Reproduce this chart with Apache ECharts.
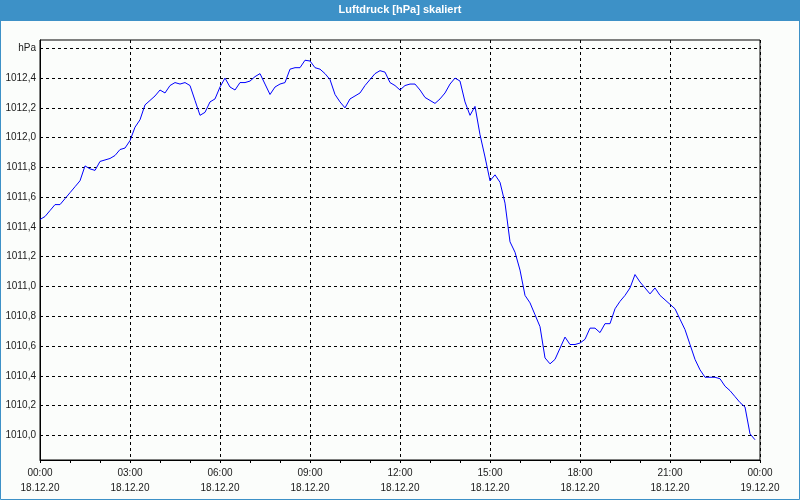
<!DOCTYPE html>
<html><head><meta charset="utf-8">
<script src="https://cdn.jsdelivr.net/npm/echarts@6/dist/echarts.min.js"></script>
<style>html,body{margin:0;padding:0;background:#fbfdfb}#c{width:800px;height:500px}</style>
</head><body><div id="c"></div>
<script>
const chartTitle = 'Luftdruck [hPa] skaliert';
const times = [
'00:00','00:10','00:20','00:30','00:40','00:50','01:00','01:10','01:20','01:30','01:40','01:50',
'02:00','02:10','02:20','02:30','02:40','02:50','03:00','03:10','03:20','03:30','03:40','03:50',
'04:00','04:10','04:20','04:30','04:40','04:50','05:00','05:10','05:20','05:30','05:40','05:50',
'06:00','06:10','06:20','06:30','06:40','06:50','07:00','07:10','07:20','07:30','07:40','07:50',
'08:00','08:10','08:20','08:30','08:40','08:50','09:00','09:10','09:20','09:30','09:40','09:50',
'10:00','10:10','10:20','10:30','10:40','10:50','11:00','11:10','11:20','11:30','11:40','11:50',
'12:00','12:10','12:20','12:30','12:40','12:50','13:00','13:10','13:20','13:30','13:40','13:50',
'14:00','14:10','14:20','14:30','14:40','14:50','15:00','15:10','15:20','15:30','15:40','15:50',
'16:00','16:10','16:20','16:30','16:40','16:50','17:00','17:10','17:20','17:30','17:40','17:50',
'18:00','18:10','18:20','18:30','18:40','18:50','19:00','19:10','19:20','19:30','19:40','19:50',
'20:00','20:10','20:20','20:30','20:40','20:50','21:00','21:10','21:20','21:30','21:40','21:50',
'22:00','22:10','22:20','22:30','22:40','22:50','23:00','23:10','23:20','23:30','23:40','23:50'
];
const pressure = [
1011.45,1011.47,1011.51,1011.55,1011.55,1011.59,1011.63,1011.67,1011.71,1011.81,1011.79,1011.78,
1011.84,1011.85,1011.86,1011.88,1011.92,1011.93,1011.98,1012.07,1012.12,1012.22,1012.25,1012.28,
1012.32,1012.30,1012.35,1012.37,1012.36,1012.37,1012.35,1012.25,1012.15,1012.17,1012.24,1012.26,
1012.34,1012.40,1012.34,1012.32,1012.37,1012.37,1012.38,1012.41,1012.43,1012.36,1012.29,1012.34,
1012.36,1012.37,1012.46,1012.47,1012.47,1012.52,1012.515,1012.47,1012.46,1012.43,1012.39,1012.29,
1012.24,1012.20,1012.26,1012.28,1012.30,1012.35,1012.39,1012.43,1012.45,1012.44,1012.37,1012.35,
1012.32,1012.35,1012.36,1012.36,1012.32,1012.27,1012.25,1012.23,1012.26,1012.30,1012.36,1012.40,
1012.38,1012.24,1012.15,1012.21,1012.02,1011.87,1011.71,1011.75,1011.70,1011.56,1011.30,1011.23,
1011.11,1010.94,1010.89,1010.81,1010.73,1010.52,1010.48,1010.51,1010.585,1010.66,1010.61,1010.61,
1010.62,1010.645,1010.72,1010.72,1010.69,1010.75,1010.75,1010.85,1010.90,1010.94,1010.99,1011.08,
1011.03,1010.99,1010.95,1010.99,1010.94,1010.91,1010.88,1010.85,1010.78,1010.71,1010.61,1010.51,
1010.44,1010.39,1010.39,1010.39,1010.38,1010.33,1010.30,1010.26,1010.22,1010.19,1010.01,1009.97
];
const xTickValues = [0,180,360,540,720,900,1080,1260,1440];
const xTickLabels = ['00:00\n18.12.20','03:00\n18.12.20','06:00\n18.12.20','09:00\n18.12.20','12:00\n18.12.20',
  '15:00\n18.12.20','18:00\n18.12.20','21:00\n18.12.20','00:00\n19.12.20'];
const yTickValues = [1010.0,1010.2,1010.4,1010.6,1010.8,1011.0,1011.2,1011.4,1011.6,1011.8,1012.0,1012.2,1012.4,1012.6];
const yTickLabels = ['1010,0','1010,2','1010,4','1010,6','1010,8','1011,0','1011,2','1011,4','1011,6','1011,8','1012,0','1012,2','1012,4','hPa'];

function toMinutes(t){const p=t.split(':');return (+p[0])*60+(+p[1]);}
const seriesData = times.map((t,i)=>[toMinutes(t), pressure[i]]);

const FONT = 'Tahoma, "Liberation Sans", sans-serif';
const BLUE = '#3d91c7';
const chart = echarts.init(document.getElementById('c'), null, {renderer:'canvas'});
chart.setOption({
  backgroundColor:'#fbfdfb',
  animation:false,
  title:{text:chartTitle,left:'center',top:4,padding:0,
    textStyle:{color:'#ffffff',fontSize:11,fontWeight:'bold',fontFamily:FONT}},
  graphic:[
    {type:'rect',left:0,top:0,z:-1,shape:{width:800,height:21},style:{fill:BLUE}},
    {type:'rect',z:100,shape:{x:0.5,y:0.5,width:799,height:499},style:{fill:null,stroke:BLUE,lineWidth:1}}
  ],
  grid:{left:40,right:40,top:40,bottom:40,show:true,borderColor:'#000',borderWidth:1,backgroundColor:'transparent'},
  xAxis:{type:'value',min:0,max:1440,interval:180,
    axisLine:{show:true,lineStyle:{color:'#000',width:1}},
    axisTick:{show:true,length:3,lineStyle:{color:'#000'}},
    minorTick:{show:true,splitNumber:3,length:3,lineStyle:{color:'#000'}},
    splitLine:{show:true,lineStyle:{color:'#000',type:[3,3],width:1}},
    axisLabel:{margin:6,lineHeight:15,color:'#1a1a1a',fontSize:10,fontFamily:FONT,
      formatter:v=>{const i=xTickValues.indexOf(v);return i>=0?xTickLabels[i]:'';}}
  },
  yAxis:{type:'value',min:1009.834,max:1012.656,
    axisLine:{show:true,lineStyle:{color:'#000',width:1}},
    axisTick:{show:false,customValues:yTickValues},
    splitLine:{show:true,lineStyle:{color:'#000',type:[3,3],width:1}},
    axisLabel:{customValues:yTickValues,margin:4,color:'#1a1a1a',fontSize:10,fontFamily:FONT,
      formatter:v=>{let i=-1;yTickValues.forEach((t,k)=>{if(Math.abs(t-v)<1e-6)i=k;});return i>=0?yTickLabels[i]:'';}}
  },
  series:[{type:'line',data:seriesData,symbol:'none',lineStyle:{color:'#0000ff',width:1},z:5}]
});
</script>
</body></html>
